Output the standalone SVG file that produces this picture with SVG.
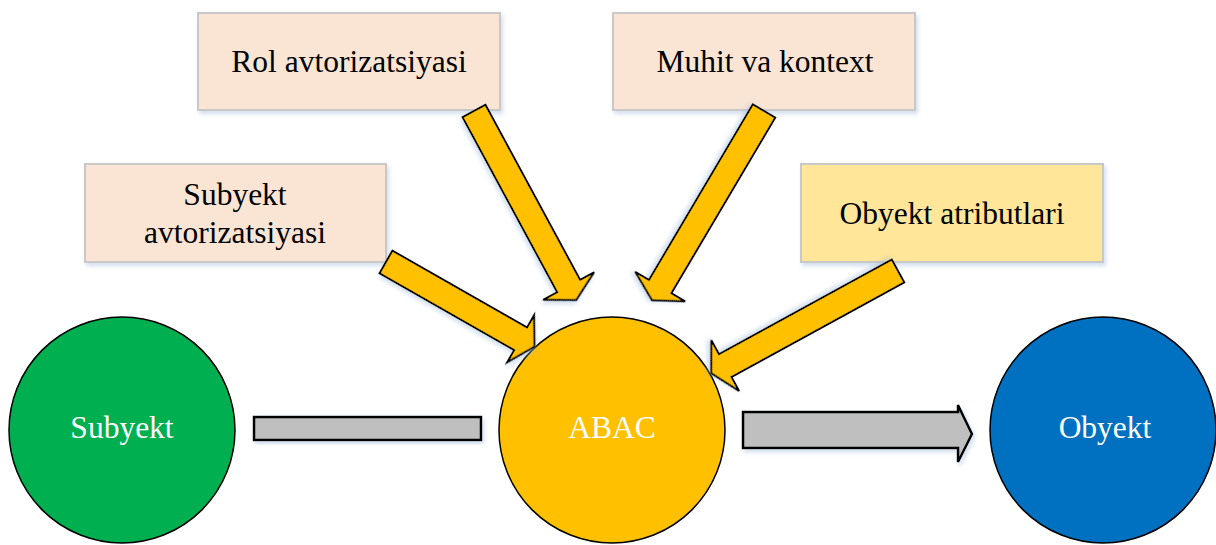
<svg xmlns="http://www.w3.org/2000/svg" width="1216" height="545" viewBox="0 0 1216 545">
<defs>
<filter id="sh" x="-10%" y="-10%" width="130%" height="130%">
<feDropShadow dx="2" dy="3" stdDeviation="2" flood-color="#9db8d9" flood-opacity="0.45"/>
</filter>
</defs>
<style>
.box{stroke:#c8c8c8;stroke-width:2;}
.peach{fill:#fae5d5;}
.gold{fill:#ffe699;}
.t{font-family:"Liberation Serif","Times New Roman",serif;font-size:31.5px;fill:#000;text-anchor:middle;}
.w{fill:#fff;}
.circ{stroke:#000;stroke-width:1.5;}
.ya{fill:#ffc000;stroke:#000;stroke-width:2;stroke-linejoin:miter;}
.ga{fill:#bfbfbf;stroke:#000;stroke-width:2.5;}
</style>
<g id="rol">
<rect class="box peach" x="198" y="13" width="302" height="97" filter="url(#sh)"/>
<text class="t" x="349" y="72">Rol avtorizatsiyasi</text>
</g>
<g id="muhit">
<rect class="box peach" x="613" y="13" width="302" height="97" filter="url(#sh)"/>
<text class="t" x="765" y="72">Muhit va kontext</text>
</g>
<g id="subavt">
<rect class="box peach" x="85" y="164" width="301" height="98" filter="url(#sh)"/>
<text class="t" x="235" y="205">Subyekt</text>
<text class="t" x="235" y="243">avtorizatsiyasi</text>
</g>
<g id="obatr">
<rect class="box gold" x="801" y="164" width="302" height="98" filter="url(#sh)"/>
<text class="t" x="952" y="224">Obyekt atributlari</text>
</g>
<g id="subyekt">
<circle class="circ" cx="122" cy="430" r="113" fill="#00b050"/>
<text class="t w" x="122" y="438">Subyekt</text>
</g>
<g id="abac">
<circle class="circ" cx="612" cy="430" r="113" fill="#ffc000"/>
<text class="t w" x="612" y="438">ABAC</text>
</g>
<g id="obyekt">
<circle class="circ" cx="1103" cy="430" r="113" fill="#0070c0"/>
<text class="t w" x="1105" y="438">Obyekt</text>
</g>
<g id="connectors">
<polygon class="ya" filter="url(#sh)" transform="translate(474,111) rotate(61.6)" points="0,-13 199,-13 199,-29 215,0 199,29 199,13 0,13"/>
<polygon class="ya" filter="url(#sh)" transform="translate(764,111) rotate(120.6)" points="0,-13 204,-13 204,-29 220,0 204,29 204,13 0,13"/>
<polygon class="ya" filter="url(#sh)" transform="translate(386,262) rotate(29.7)" points="0,-13 155,-13 155,-27 171,0 155,27 155,13 0,13"/>
<polygon class="ya" filter="url(#sh)" transform="translate(898,271) rotate(151.3)" points="0,-13 197,-13 197,-29 213,0 197,29 197,13 0,13"/>
<rect class="ga" x="254" y="417" width="227" height="23" filter="url(#sh)"/>
<polygon class="ga" filter="url(#sh)" points="743,412 958,412 958,405 972,434 958,462 958,448 743,448"/>
</g>
</svg>
